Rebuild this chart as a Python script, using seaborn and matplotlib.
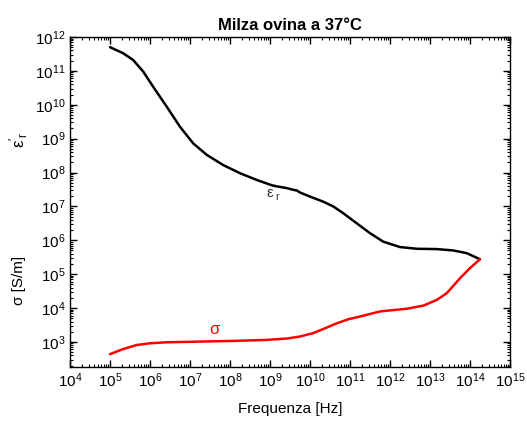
import numpy as np
import pandas as pd
import matplotlib
matplotlib.use("Agg")
import matplotlib.pyplot as plt
import seaborn as sns
from matplotlib.ticker import LogLocator

# Dielectric properties of ovine spleen at 37 °C (log10 of frequency and value)
eps_logf = [5.0, 5.33, 5.58, 5.83, 6.08, 6.42, 6.75, 7.08, 7.42, 7.83, 8.25, 8.67,
            9.08, 9.42, 9.58, 9.67, 9.75, 10.0, 10.33, 10.58, 10.83, 11.17, 11.5,
            11.83, 12.25, 12.67, 13.17, 13.58, 13.92, 14.25]
eps_logv = [11.70, 11.52, 11.32, 10.98, 10.53, 9.94, 9.35, 8.86, 8.52, 8.22, 7.98, 7.78,
            7.61, 7.54, 7.49, 7.47, 7.41, 7.29, 7.14, 7.0, 6.80, 6.50, 6.21,
            5.96, 5.80, 5.75, 5.74, 5.70, 5.62, 5.44]

sig_logf = [5.0, 5.33, 5.67, 6.0, 6.42, 7.25, 8.08, 8.92, 9.42, 9.75, 10.08, 10.33,
            10.67, 10.96, 11.25, 11.75, 12.42, 12.83, 13.17, 13.42, 13.75, 14.0, 14.25]
sig_logv = [2.64, 2.79, 2.91, 2.96, 2.99, 3.01, 3.03, 3.06, 3.10, 3.16, 3.26, 3.38,
            3.55, 3.67, 3.75, 3.90, 3.98, 4.07, 4.24, 4.44, 4.88, 5.18, 5.44]

df = pd.concat([
    pd.DataFrame({"f": 10.0 ** np.array(eps_logf), "v": 10.0 ** np.array(eps_logv), "q": "eps"}),
    pd.DataFrame({"f": 10.0 ** np.array(sig_logf), "v": 10.0 ** np.array(sig_logv), "q": "sigma"}),
])

sns.set_style("ticks")
plt.rcParams["font.family"] = ["Liberation Sans", "DejaVu Sans"]
plt.rcParams["mathtext.fontset"] = "custom"
plt.rcParams["mathtext.rm"] = "Liberation Sans"
plt.rcParams["mathtext.it"] = "Liberation Sans:italic"
for key in ["text.color", "axes.labelcolor", "xtick.color", "ytick.color", "axes.edgecolor"]:
    plt.rcParams[key] = "black"

fig = plt.figure(figsize=(5.27, 4.26), dpi=100)
ax = fig.add_axes([70 / 527, 1 - 367 / 426, 440 / 527, 330 / 426])

sns.lineplot(data=df, x="f", y="v", hue="q", palette={"eps": "black", "sigma": "red"},
             linewidth=1.8, legend=False, ax=ax, sort=False)

ax.set_xscale("log")
ax.set_yscale("log")
ax.set_xlim(1e4, 1e15)
ax.set_ylim(10 ** 2.26, 1e12)
ax.xaxis.set_major_locator(LogLocator(base=10, numticks=20))
ax.yaxis.set_major_locator(LogLocator(base=10, numticks=20))
ax.xaxis.set_minor_locator(LogLocator(base=10, subs=np.arange(2, 10), numticks=20))
ax.yaxis.set_minor_locator(LogLocator(base=10, subs=np.arange(2, 10), numticks=20))
ax.tick_params(which="both", direction="in", top=True, right=True, labelsize=11)
ax.tick_params(which="major", length=5, width=1)
ax.tick_params(which="minor", length=2.5, width=0.8)
for s in ax.spines.values():
    s.set_linewidth(1)

ax.set_xlabel("Frequenza [Hz]", fontsize=11, labelpad=8)
ax.set_ylabel("")
ax.set_title("Milza ovina a 37°C", fontsize=12, fontweight="bold", pad=5)

fig.text(0.036, 1 - 140 / 426, r"$\mathrm{ε}'_\mathrm{r}$", rotation=90, fontsize=12,
         ha="center", va="center")
fig.text(0.036, 1 - 280 / 426, "σ [S/m]", rotation=90, fontsize=11, ha="center", va="center")

ax.text(10 ** 9.08, 10 ** 7.42, r"$\mathrm{ε}'_\mathrm{r}$", fontsize=11, color="#333333",
        ha="center", va="center")
ax.text(10 ** 7.6, 10 ** 3.36, "σ", fontsize=12, color="red", ha="center", va="center")

fig.savefig("out.png", dpi=100)
